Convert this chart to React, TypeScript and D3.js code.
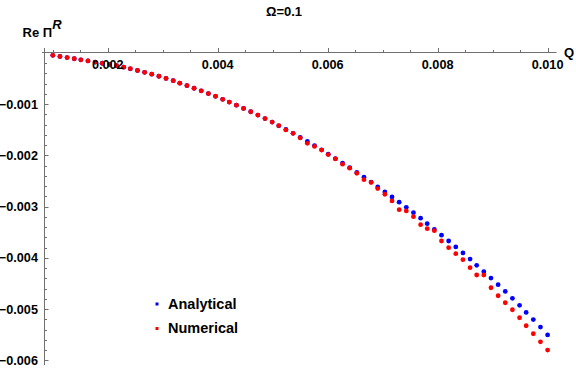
import React from "react";
import * as d3 from "d3";

const Q = [
  0.00100, 0.00113, 0.00126, 0.00139, 0.00151, 0.00164, 0.00177, 0.00190, 0.00203, 0.00216,
  0.00229, 0.00241, 0.00254, 0.00267, 0.00280, 0.00293, 0.00306, 0.00319, 0.00331, 0.00344,
  0.00357, 0.00370, 0.00383, 0.00396, 0.00409, 0.00421, 0.00434, 0.00447, 0.00460, 0.00473,
  0.00486, 0.00499, 0.00511, 0.00524, 0.00537, 0.00550, 0.00563, 0.00576, 0.00589, 0.00601,
  0.00614, 0.00627, 0.00640, 0.00653, 0.00666, 0.00679, 0.00691, 0.00704, 0.00717, 0.00730,
  0.00743, 0.00756, 0.00769, 0.00781, 0.00794, 0.00807, 0.00820, 0.00833, 0.00846, 0.00859,
  0.00871, 0.00884, 0.00897, 0.00910, 0.00923, 0.00936, 0.00949, 0.00961, 0.00974, 0.00987,
  0.01000,
];

const analytical = [
  -0.000049, -0.000072, -0.000094, -0.000116, -0.000137, -0.000158, -0.000181, -0.000204, -0.000227, -0.000252,
  -0.000280, -0.000312, -0.000345, -0.000380, -0.000418, -0.000458, -0.000500, -0.000544, -0.000592, -0.000642,
  -0.000692, -0.000742, -0.000795, -0.000850, -0.000907, -0.000962, -0.001022, -0.001085, -0.001150, -0.001216,
  -0.001283, -0.001352, -0.001424, -0.001497, -0.001572, -0.001650, -0.001730, -0.001811, -0.001893, -0.001978,
  -0.002064, -0.002152, -0.002242, -0.002334, -0.002428, -0.002522, -0.002617, -0.002714, -0.002814, -0.002915,
  -0.003016, -0.003120, -0.003226, -0.003335, -0.003446, -0.003558, -0.003672, -0.003788, -0.003905, -0.004024,
  -0.004146, -0.004270, -0.004396, -0.004525, -0.004657, -0.004791, -0.004927, -0.005065, -0.005206, -0.005352,
  -0.005505,
];

const numerical = [
  -0.000049, -0.000072, -0.000094, -0.000116, -0.000137, -0.000158, -0.000181, -0.000204, -0.000227, -0.000252,
  -0.000280, -0.000310, -0.000345, -0.000380, -0.000418, -0.000458, -0.000500, -0.000544, -0.000592, -0.000640,
  -0.000692, -0.000742, -0.000795, -0.000848, -0.000907, -0.000962, -0.001022, -0.001085, -0.001150, -0.001216,
  -0.001283, -0.001352, -0.001420, -0.001505, -0.001572, -0.001660, -0.001767, -0.001826, -0.001898, -0.001986,
  -0.002070, -0.002174, -0.002252, -0.002350, -0.002475, -0.002529, -0.002650, -0.002760, -0.002891, -0.003061,
  -0.003086, -0.003197, -0.003354, -0.003432, -0.003471, -0.003672, -0.003803, -0.003920, -0.004037, -0.004193,
  -0.004336, -0.004336, -0.004584, -0.004740, -0.004877, -0.005014, -0.005170, -0.005326, -0.005482, -0.005639,
  -0.005801,
];

const xMajor = [0.002, 0.004, 0.006, 0.008, 0.010];
const xMajorLabels = ["0.002", "0.004", "0.006", "0.008", "0.010"];
const yMajor = [-0.001, -0.002, -0.003, -0.004, -0.005, -0.006];
const yMajorLabels = ["\u22120.001", "\u22120.002", "\u22120.003", "\u22120.004", "\u22120.005", "\u22120.006"];
const seriesNames = ["Analytical", "Numerical"];
const seriesColors = ["#0000ff", "#ff0000"];

const W = 576;
const H = 369;
const FONT = "'Liberation Sans', Arial, Helvetica, sans-serif";

export default function App() {
  const x = d3.scaleLinear().domain([0.00084, 0.01014]).range([44, 555.3]);
  const y = d3.scaleLinear().domain([0, -0.006]).range([52.8, 360.3]);

  const xMinor = d3.range(0, 18).map((k) => 0.001 + k * 0.0005).filter((v) => !xMajor.some((m) => Math.abs(m - v) < 1e-9));
  const yMinor = d3.range(1, 31).map((k) => -k * 0.0002).filter((v) => !yMajor.some((m) => Math.abs(m - v) < 1e-9));

  const axisColor = "#707070";
  const x0 = 44.5;
  const y0 = 52.5;

  const series = [analytical, numerical];

  return (
    <svg width={W} height={H} style={{ position: "absolute", left: 0, top: 0, background: "#fff" }}>
      <rect width={W} height={H} fill="#fff" />
      {/* data */}
      {series.map((vals, si) => (
        <g key={si} fill={seriesColors[si]}>
          {vals.map((v, i) => (
            <circle key={i} cx={x(Q[i])} cy={y(v)} r={2.4} />
          ))}
        </g>
      ))}
      {/* axes */}
      <line x1={42} x2={556.5} y1={y0} y2={y0} stroke={axisColor} strokeWidth={1} />
      <line x1={x0} x2={x0} y1={48} y2={365} stroke={axisColor} strokeWidth={1} />
      {xMajor.map((v, i) => (
        <g key={"xm" + i}>
          <line x1={Math.round(x(v)) + 0.5} x2={Math.round(x(v)) + 0.5} y1={y0} y2={y0 - 4.5} stroke={axisColor} />
          <text x={x(v)} y={69} textAnchor="middle" fontFamily={FONT} fontWeight="bold" fontSize={12.7} fill="#000">
            {xMajorLabels[i]}
          </text>
        </g>
      ))}
      {xMinor.map((v, i) => (
        <line key={"xn" + i} x1={Math.round(x(v)) + 0.5} x2={Math.round(x(v)) + 0.5} y1={y0} y2={y0 - 2.5} stroke={axisColor} />
      ))}
      {yMajor.map((v, i) => (
        <g key={"ym" + i}>
          <line x1={x0} x2={x0 + 4} y1={Math.round(y(v)) + 0.5} y2={Math.round(y(v)) + 0.5} stroke={axisColor} />
          <text x={38} y={y(v) + 4.5} textAnchor="end" fontFamily={FONT} fontWeight="bold" fontSize={12.7} fill="#000">
            {yMajorLabels[i]}
          </text>
        </g>
      ))}
      {yMinor.map((v, i) => (
        <line key={"yn" + i} x1={x0} x2={x0 + 2.5} y1={Math.round(y(v)) + 0.5} y2={Math.round(y(v)) + 0.5} stroke={axisColor} />
      ))}
      {/* axis labels */}
      <text x={564} y={57} fontFamily={FONT} fontWeight="bold" fontSize={13} fill="#000">Q</text>
      <text x={22.5} y={36.5} fontFamily={FONT} fontWeight="bold" fontSize={13} fill="#000">
        Re Π
        <tspan fontStyle="italic" dy={-8} fontSize={13}>R</tspan>
      </text>
      <text x={284} y={16} textAnchor="middle" fontFamily={FONT} fontWeight="bold" fontSize={13} fill="#000">Ω=0.1</text>
      {/* legend */}
      {seriesNames.map((name, i) => (
        <g key={"lg" + i}>
          <rect x={155.5} y={302.5 + i * 24.5} width={3} height={3} fill={seriesColors[i]} />
          <text x={168} y={308.5 + i * 24.5} fontFamily={FONT} fontWeight="bold" fontSize={14.5} fill="#000">{name}</text>
        </g>
      ))}
    </svg>
  );
}
